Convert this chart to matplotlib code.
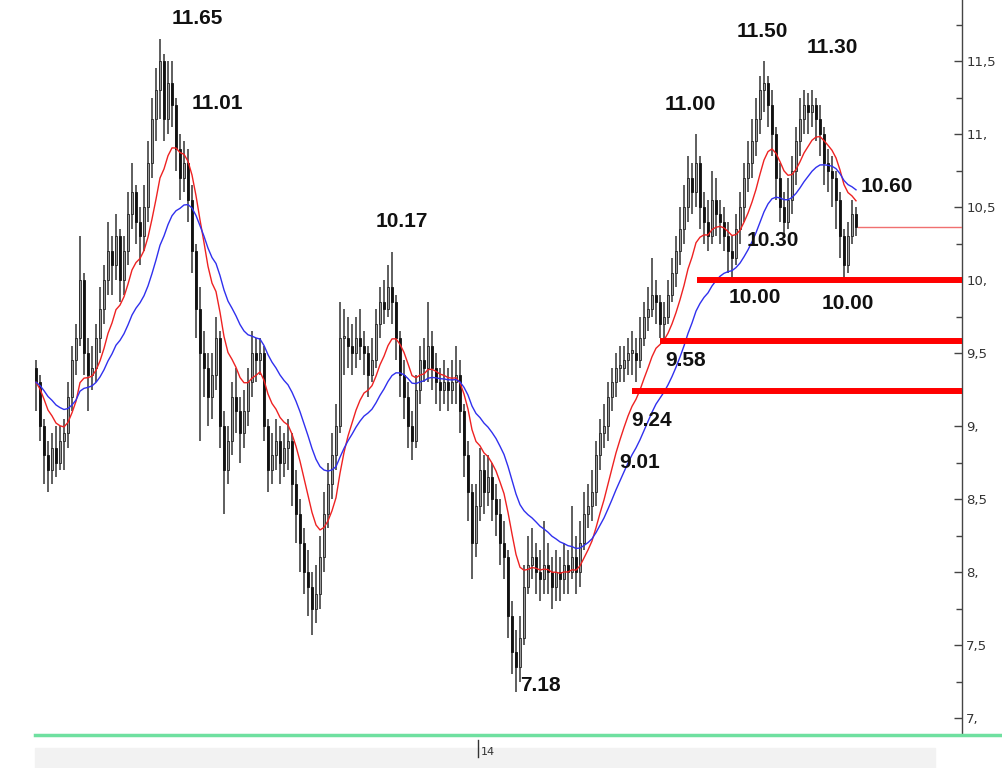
import matplotlib.pyplot as plt
import numpy as np
import pandas as pd
from matplotlib.lines import Line2D
from matplotlib.patches import Rectangle

# closing prices, one per bar
close = [
    9.30, 9.00, 8.80, 8.70, 8.85, 8.75, 8.90, 8.95, 9.20, 9.45,
    9.60, 10.00, 9.50, 9.35, 9.40, 9.60, 9.80, 10.00, 10.20, 10.10,
    10.30, 10.00, 10.20, 10.45, 10.60, 10.40, 10.30, 10.50, 10.80, 11.10,
    11.30, 11.50, 11.10, 11.35, 11.20, 10.90, 10.70, 10.80, 10.55, 10.20,
    9.80, 9.50, 9.40, 9.20, 9.35, 9.60, 9.00, 8.70, 8.90, 9.20,
    9.10, 8.95, 9.10, 9.30, 9.50, 9.45, 9.50, 9.00, 8.70, 8.80,
    8.90, 8.75, 8.85, 8.90, 8.60, 8.40, 8.20, 8.00, 7.90, 7.75,
    7.85, 8.10, 8.40, 8.60, 8.80, 9.00, 9.60, 9.60, 9.55, 9.50,
    9.60, 9.55, 9.50, 9.35, 9.45, 9.70, 9.85, 9.80, 9.95, 9.85,
    9.60, 9.35, 9.20, 9.00, 8.90, 9.25, 9.45, 9.40, 9.55, 9.40,
    9.30, 9.25, 9.30, 9.25, 9.30, 9.35, 9.10, 8.80, 8.55, 8.20,
    8.45, 8.70, 8.55, 8.65, 8.50, 8.40, 8.20, 8.10, 7.70, 7.45,
    7.35, 7.55, 7.90, 8.05, 8.10, 8.00, 7.95, 8.05, 8.00, 7.90,
    8.00, 7.95, 8.05, 8.00, 8.10, 8.00, 8.20, 8.40, 8.45, 8.55,
    8.80, 8.95, 9.00, 9.20, 9.30, 9.40, 9.40, 9.45, 9.50, 9.50,
    9.45, 9.60, 9.75, 9.80, 9.90, 9.85, 9.70, 9.75, 9.90, 10.05,
    10.20, 10.35, 10.50, 10.70, 10.60, 10.80, 10.50, 10.40, 10.30, 10.55,
    10.45, 10.40, 10.30, 10.20, 10.15, 10.35, 10.50, 10.70, 10.80, 10.95,
    11.10, 11.30, 11.35, 11.20, 11.00, 10.70, 10.50, 10.40, 10.55, 10.75,
    10.95, 11.10, 11.20, 11.15, 11.20, 11.10, 11.00, 10.80, 10.75, 10.70,
    10.55, 10.30, 10.10, 10.30, 10.45, 10.36,
]
high = [
    9.45, 9.35, 9.05, 8.90, 8.95, 9.00, 9.00, 9.05, 9.30, 9.55,
    9.70, 10.30, 10.05, 9.60, 9.55, 9.70, 9.95, 10.10, 10.40, 10.30,
    10.45, 10.35, 10.30, 10.60, 10.80, 10.65, 10.50, 10.65, 10.95, 11.25,
    11.45, 11.65, 11.55, 11.50, 11.50, 11.25, 11.00, 10.95, 10.90, 10.65,
    10.25, 9.95, 9.65, 9.50, 9.50, 9.75, 9.65, 9.10, 9.00, 9.30,
    9.40, 9.20, 9.25, 9.40, 9.65, 9.60, 9.60, 9.55, 9.05, 8.95,
    9.05, 9.00, 8.95, 9.05, 8.95, 8.70, 8.50, 8.30, 8.15, 8.00,
    8.05, 8.25, 8.55, 8.75, 8.95, 9.15, 9.85, 9.80, 9.75, 9.70,
    9.75, 9.80, 9.65, 9.55, 9.60, 9.80, 9.95, 10.00, 10.10, 10.19,
    9.90, 9.65, 9.45, 9.30, 9.10, 9.35, 9.55, 9.60, 9.85, 9.65,
    9.50, 9.40, 9.45, 9.40, 9.45, 9.55, 9.45, 9.15, 8.90, 8.60,
    8.60, 8.85, 8.80, 8.80, 8.75, 8.60, 8.50, 8.35, 8.15, 7.80,
    7.60, 7.70, 8.05, 8.25, 8.30, 8.20, 8.15, 8.35, 8.20, 8.10,
    8.15, 8.10, 8.20, 8.15, 8.45, 8.25, 8.35, 8.55, 8.60, 8.70,
    8.90, 9.05, 9.15, 9.30, 9.40, 9.50, 9.55, 9.55, 9.60, 9.65,
    9.60, 9.75, 9.85, 9.95, 10.15, 10.00, 9.90, 9.85, 10.00, 10.15,
    10.30, 10.50, 10.65, 10.85, 10.80, 11.00, 10.85, 10.60, 10.55, 10.75,
    10.70, 10.55, 10.50, 10.40, 10.30, 10.45, 10.60, 10.80, 10.95, 11.10,
    11.25, 11.40, 11.50, 11.40, 11.30, 11.05, 10.80, 10.60, 10.70, 10.85,
    11.05, 11.25, 11.30, 11.28, 11.30, 11.25, 11.20, 11.05, 10.90, 10.85,
    10.75, 10.60, 10.35, 10.40, 10.55, 10.50,
]
low = [
    9.10, 8.90, 8.60, 8.55, 8.60, 8.65, 8.70, 8.70, 8.85, 9.10,
    9.35, 9.55, 9.35, 9.10, 9.25, 9.30, 9.50, 9.70, 9.90, 9.90,
    10.00, 9.85, 9.90, 10.10, 10.35, 10.25, 10.10, 10.20, 10.40, 10.70,
    10.95, 11.10, 10.95, 11.00, 11.05, 10.75, 10.55, 10.60, 10.40, 10.05,
    9.60, 8.90, 9.20, 9.00, 9.05, 9.25, 8.85, 8.40, 8.60, 8.80,
    8.95, 8.75, 8.85, 9.00, 9.20, 9.30, 9.35, 8.90, 8.55, 8.60,
    8.70, 8.60, 8.65, 8.70, 8.45, 8.20, 8.00, 7.85, 7.70, 7.57,
    7.65, 7.75, 8.00, 8.30, 8.50, 8.70, 8.95, 9.35, 9.40, 9.35,
    9.40, 9.45, 9.35, 9.20, 9.30, 9.40, 9.60, 9.70, 9.75, 9.70,
    9.45, 9.20, 9.05, 8.85, 8.77, 8.85, 9.15, 9.30, 9.30, 9.25,
    9.15, 9.10, 9.15, 9.10, 9.15, 9.15, 8.95, 8.65, 8.35, 7.95,
    8.10, 8.35, 8.40, 8.45, 8.35, 8.25, 8.05, 7.95, 7.55, 7.30,
    7.18, 7.25, 7.50, 7.85, 7.95, 7.85, 7.80, 7.85, 7.85, 7.75,
    7.80, 7.80, 7.85, 7.85, 7.95, 7.85, 7.90, 8.15, 8.30, 8.35,
    8.45, 8.70, 8.85, 8.90, 9.10, 9.20, 9.30, 9.30, 9.35, 9.35,
    9.30, 9.40, 9.55, 9.65, 9.75, 9.70, 9.60, 9.60, 9.70, 9.85,
    9.95, 10.10, 10.25, 10.40, 10.45, 10.50, 10.35, 10.25, 10.20, 10.25,
    10.30, 10.25, 10.20, 10.05, 10.00, 10.10, 10.25, 10.40, 10.60, 10.70,
    10.85, 11.00, 11.15, 11.05, 10.85, 10.55, 10.40, 10.30, 10.35, 10.45,
    10.65, 10.85, 11.00, 11.00, 11.05, 10.95, 10.85, 10.65, 10.60, 10.50,
    10.35, 10.15, 10.00, 10.05, 10.25, 10.30,
]
first_open = 9.40

# support levels (price, first bar index)
levels = [10.00, 9.58, 9.24]
level_start = [165.25, 156, 149]
last_price = 10.36

# price labels: text, bar position, price position
labels = ["11.65", "11.01", "10.17", "11.00", "11.50", "11.30", "10.60",
          "10.30", "10.00", "10.00", "9.58", "9.24", "9.01", "7.18"]
label_x = [40.3, 45.3, 91.5, 163.5, 181.5, 199.0, 212.8,
           184.3, 179.8, 203.0, 162.3, 154.0, 151.0, 126.0]
label_y = [11.79, 11.21, 10.40, 11.20, 11.70, 11.59, 10.64,
           10.27, 9.88, 9.84, 9.45, 9.04, 8.75, 7.22]

yticks = [7.0, 7.5, 8.0, 8.5, 9.0, 9.5, 10.0, 10.5, 11.0, 11.5]
ytick_labels = ["7,", "7,5", "8,", "8,5", "9,", "9,5", "10,", "10,5", "11,", "11,5"]

c = np.array(close)
o = np.concatenate([[first_open], c[:-1]])
idx = np.arange(len(c))

fig = plt.figure(figsize=(10.02, 7.68), dpi=100)
ax = fig.add_axes([35 / 1002, 33 / 768, 927 / 1002, 735 / 768])

# wicks and bodies
ax.vlines(idx, low, high, color="#333333", lw=1.1, zorder=2)
up = c >= o
body = np.where(np.abs(c - o) < 0.02, 0.02, c - o)
ax.bar(idx[up], body[up], bottom=o[up], width=0.72, color="#9a9a9a",
       edgecolor="#222222", lw=0.6, zorder=3)
ax.bar(idx[~up], body[~up], bottom=o[~up], width=0.72, color="#111111",
       edgecolor="#111111", lw=0.6, zorder=3)

# moving averages
s = pd.Series(close)
ax.plot(idx, s.ewm(span=12, adjust=False).mean(), color="#ee2222", lw=1, zorder=4)
ax.plot(idx, s.ewm(span=26, adjust=False).mean(), color="#3030ee", lw=1, zorder=4)

x_right = 231.5
for lv, st in zip(levels, level_start):
    ax.plot([st, x_right], [lv, lv], color="#ff0000", lw=4.3, solid_capstyle="butt", zorder=5)
ax.plot([len(c) - 0.5, x_right], [last_price, last_price], color="#f07070", lw=1, zorder=5)

for t, x, y in zip(labels, label_x, label_y):
    ax.text(x, y, t, ha="center", va="center", fontsize=15, fontweight="bold",
            family="Liberation Sans", color="#111111", zorder=6)

ax.set_xlim(-0.25, x_right)
ax.set_ylim(6.884, 11.918)
for sp in ["top", "left", "bottom"]:
    ax.spines[sp].set_visible(False)
ax.spines["right"].set_color("#444444")
ax.spines["right"].set_linewidth(1)
ax.set_xticks([])
ax.yaxis.tick_right()
ax.set_yticks(yticks)
ax.set_yticklabels(ytick_labels)
ax.set_yticks(np.arange(7.25, 11.8, 0.5), minor=True)
ax.tick_params(axis="y", which="major", direction="in", length=6, width=1,
               color="#444444", labelsize=9.5, labelcolor="#333333", pad=3)
ax.tick_params(axis="y", which="minor", direction="in", length=4, width=1, color="#444444")

# bottom band, green base line and date mark
fig.patches.append(Rectangle((35 / 1002, 0), 900 / 1002, 20 / 768,
                             transform=fig.transFigure, color="#f2f2f2", zorder=0))
fig.lines.append(Line2D([35 / 1002, 1.0], [33 / 768, 33 / 768], transform=fig.transFigure,
                        color="#6fe0a0", lw=2.5))
fig.lines.append(Line2D([478 / 1002, 478 / 1002], [11 / 768, 28 / 768], transform=fig.transFigure,
                        color="#333333", lw=1))
fig.text(481 / 1002, 16 / 768, "14", fontsize=8, color="#333333", va="center", ha="left")

fig.savefig("out.png", dpi=100)
